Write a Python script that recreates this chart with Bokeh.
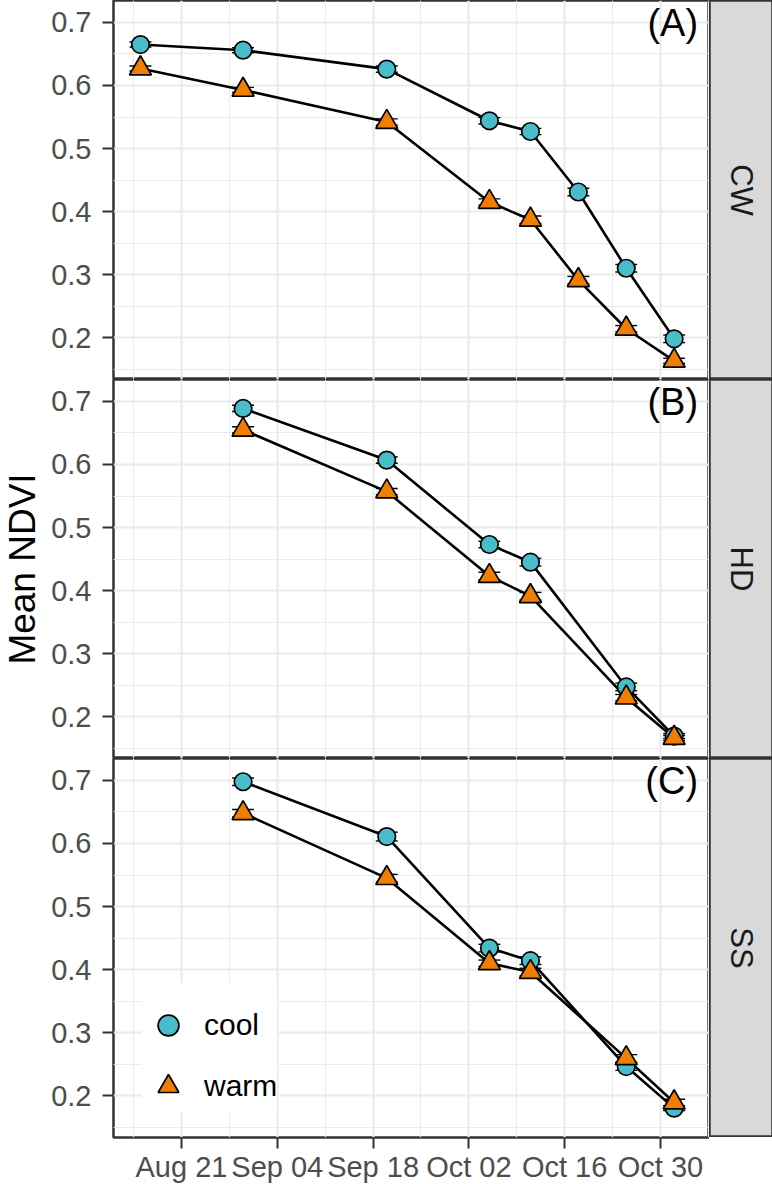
import numpy as np
import pandas as pd
from bokeh.plotting import figure
from bokeh.layouts import row, column
from bokeh.models import (Range1d, FixedTicker, DatetimeTickFormatter, Legend,
                          LegendItem, ColumnDataSource)
from bokeh.core.properties import value
from bokeh.embed import file_html
from bokeh.resources import INLINE

# ---------------- data ----------------
sites = ["CW", "HD", "SS"]
panel_tags = ["(A)", "(B)", "(C)"]
treatments = ["cool", "warm"]

dates_cw = ["2020-08-15", "2020-08-30", "2020-09-20", "2020-10-05",
            "2020-10-11", "2020-10-18", "2020-10-25", "2020-11-01"]
dates_hd = ["2020-08-30", "2020-09-20", "2020-10-05", "2020-10-11",
            "2020-10-25", "2020-11-01"]
dates_ss = ["2020-08-30", "2020-09-20", "2020-10-05", "2020-10-11",
            "2020-10-25", "2020-11-01"]

cw_cool = [0.665, 0.656, 0.626, 0.544, 0.527, 0.431, 0.310, 0.198]
cw_warm = [0.627, 0.593, 0.542, 0.415, 0.387, 0.291, 0.214, 0.163]
hd_cool = [0.689, 0.607, 0.473, 0.445, 0.247, 0.169]
hd_warm = [0.655, 0.557, 0.423, 0.391, 0.230, 0.166]
ss_cool = [0.698, 0.611, 0.434, 0.414, 0.246, 0.180]
ss_warm = [0.648, 0.545, 0.410, 0.396, 0.259, 0.189]

cw_cool_se = [0.004, 0.004, 0.005, 0.005, 0.005, 0.006, 0.006, 0.006]
cw_warm_se = [0.004, 0.004, 0.005, 0.005, 0.006, 0.006, 0.005, 0.004]
hd_cool_se = [0.005, 0.005, 0.005, 0.006, 0.006, 0.004]
hd_warm_se = [0.005, 0.005, 0.006, 0.006, 0.005, 0.004]
ss_cool_se = [0.006, 0.007, 0.006, 0.006, 0.006, 0.004]
ss_warm_se = [0.006, 0.006, 0.005, 0.006, 0.006, 0.005]

x_tick_dates = ["2020-08-21", "2020-09-04", "2020-09-18",
                "2020-10-02", "2020-10-16", "2020-10-30"]
y_ticks = [0.2, 0.3, 0.4, 0.5, 0.6, 0.7]

# ---------------- style / layout ----------------
FONT = "Liberation Sans"
COOL = "#48BDC9"
WARM = "#F07E00"
GRID = "#EBEBEB"
BORDER = "#333333"
FRAME_W, FRAME_H = 596, 379
LABEL_W = 48
LEFT_B = 64
STRIP_W = 64
DAY_MS = 86400000.0


def ms(s):
    return pd.Timestamp(s).value / 1e6


X_START = ms("2020-08-11 01:30")
X_END = ms("2020-11-06 04:00")
Y_START, Y_END = 0.1334, 0.7349
TAG_X = ms("2020-11-04 12:00")
TAG_Y = 0.699
CAP_HALF = 1.6 * DAY_MS

major_x = [ms(d) for d in x_tick_dates]
minor_x = [m - 7 * DAY_MS for m in major_x] + [major_x[-1] + 7 * DAY_MS]
minor_y = [0.15, 0.25, 0.35, 0.45, 0.55, 0.65, 0.75]


def make_source(dates, vals, se):
    x = np.array([ms(d) for d in dates])
    y = np.array(vals)
    e = np.array(se)
    return ColumnDataSource(dict(x=x, y=y, lo=y - e, hi=y + e,
                                 xl=x - CAP_HALF, xr=x + CAP_HALF))


def make_panel(idx, dates, cool, warm, cool_se, warm_se, bottom):
    p = figure(frame_width=FRAME_W, frame_height=FRAME_H, x_axis_type="datetime",
               x_range=Range1d(X_START, X_END), y_range=Range1d(Y_START, Y_END),
               x_axis_location="below" if bottom else None,
               min_border_left=LEFT_B, min_border_right=0, min_border_top=0,
               min_border_bottom=0, toolbar_location=None, output_backend="svg",
               background_fill_color="white", border_fill_color="white")
    p.outline_line_color = BORDER
    p.outline_line_width = 2.5

    xt = FixedTicker(ticks=major_x, minor_ticks=minor_x)
    yt = FixedTicker(ticks=y_ticks, minor_ticks=minor_y)
    p.xgrid.ticker = xt
    p.ygrid.ticker = yt
    for g in (p.xgrid, p.ygrid):
        g.grid_line_color = GRID
        g.grid_line_width = 2.2
        g.minor_grid_line_color = GRID
        g.minor_grid_line_width = 1.2

    ax = p.yaxis
    ax.ticker = yt
    ax.axis_line_color = None
    ax.major_tick_out = 11
    ax.major_tick_in = 0
    ax.major_tick_line_color = BORDER
    ax.major_tick_line_width = 2
    ax.minor_tick_line_color = None
    ax.major_label_standoff = 11
    ax.major_label_text_font = FONT
    ax.major_label_text_font_size = "29px"
    ax.major_label_text_color = "#4D4D4D"

    if bottom:
        xa = p.xaxis
        xa.ticker = xt
        xa.formatter = DatetimeTickFormatter(days="%b %d", months="%b %d",
                                             years="%b %d", hours="%b %d")
        xa.axis_line_color = None
        xa.major_tick_out = 11
        xa.major_tick_in = 0
        xa.major_tick_line_color = BORDER
        xa.major_tick_line_width = 2
        xa.minor_tick_line_color = None
        xa.major_label_standoff = 2
        xa.major_label_text_font = FONT
        xa.major_label_text_font_size = "29px"
        xa.major_label_text_color = "#4D4D4D"

    sc = make_source(dates, cool, cool_se)
    sw = make_source(dates, warm, warm_se)

    for s in (sc, sw):
        p.line("x", "y", source=s, line_color="black", line_width=2.6)
    for s in (sc, sw):
        p.segment(x0="x", y0="lo", x1="x", y1="hi", source=s,
                  line_color="black", line_width=1.4)
        p.segment(x0="xl", y0="lo", x1="xr", y1="lo", source=s,
                  line_color="black", line_width=1.4)
        p.segment(x0="xl", y0="hi", x1="xr", y1="hi", source=s,
                  line_color="black", line_width=1.4)
    rc = p.scatter("x", "y", source=sc, marker="circle", size=17.5,
                   fill_color=COOL, line_color="black", line_width=1.7)
    rw = p.scatter("x", "y", source=sw, marker="triangle", size=22,
                   fill_color=WARM, line_color="black", line_width=1.7)

    p.text(x=[TAG_X], y=[TAG_Y], text=[panel_tags[idx]], text_align="right",
           text_baseline="middle", text_font=value(FONT),
           text_font_size="38px", text_color="black")

    if bottom:
        legend = Legend(items=[LegendItem(label=treatments[0], renderers=[rc]),
                               LegendItem(label=treatments[1], renderers=[rw])],
                        location=(29, 25), margin=0, padding=8,
                        glyph_width=52, glyph_height=52, label_height=52,
                        label_standoff=10, spacing=9,
                        label_text_font=FONT, label_text_font_size="30px",
                        label_text_color="black",
                        background_fill_color="white", background_fill_alpha=1.0,
                        border_line_color=None,
                        title=" ", title_text_font_size="12px", title_standoff=2)
        p.add_layout(legend)
    return p


def make_strip(label):
    s = figure(frame_width=STRIP_W, frame_height=FRAME_H,
               x_range=Range1d(0, 1), y_range=Range1d(0, 1),
               x_axis_location=None, y_axis_location=None, min_border=0,
               toolbar_location=None, output_backend="svg",
               background_fill_color="#D9D9D9", border_fill_color="white")
    s.outline_line_color = BORDER
    s.outline_line_width = 2.5
    s.grid.visible = False
    s.text(x=[0.5], y=[0.5], text=[label], angle=-np.pi / 2,
           text_align="center", text_baseline="middle",
           text_font=value(FONT), text_font_size="31px", text_color="#1A1A1A")
    return s


pA = make_panel(0, dates_cw, cw_cool, cw_warm, cw_cool_se, cw_warm_se, False)
pB = make_panel(1, dates_hd, hd_cool, hd_warm, hd_cool_se, hd_warm_se, False)
pC = make_panel(2, dates_ss, ss_cool, ss_warm, ss_cool_se, ss_warm_se, True)

strips = [make_strip(s) for s in sites]

lab = figure(frame_width=LABEL_W, frame_height=3 * FRAME_H,
             x_range=Range1d(0, LABEL_W), y_range=Range1d(0, 1),
             x_axis_location=None, y_axis_location=None, min_border=0,
             toolbar_location=None, output_backend="svg")
lab.outline_line_color = None
lab.grid.visible = False
lab.text(x=[22], y=[0.5], text=["Mean NDVI"], angle=np.pi / 2,
         text_align="center", text_baseline="middle",
         text_font=value(FONT), text_font_size="37px", text_color="black")

layout = row(lab, column(pA, pB, pC), column(*strips))

open("out.html", "w").write(file_html(layout, INLINE))
